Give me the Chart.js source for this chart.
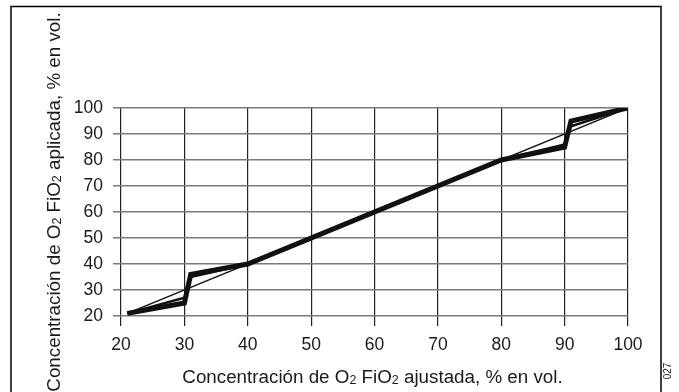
<!DOCTYPE html>
<html>
<head>
   <meta charset="utf-8">
   <script src="https://cdn.jsdelivr.net/npm/chart.js@4.4.0/dist/chart.umd.min.js"></script>
   <title>FiO2 ajustada vs aplicada</title>
   <style>
      body { margin: 0; background: #fff; }
   </style>
</head>
<body>
<canvas id="fio2-chart" width="679" height="392"></canvas>
<script>
   // set concentration (x) and measured concentration (y), % vol
   const setFiO2 = [21, 30, 31, 40, 80, 90, 91, 100];
   const appliedHigh = [21, 25, 36, 40, 80, 85, 95, 100];
   const appliedLow = [21, 27, 35, 40, 80, 86, 93, 100];
   const idealX = [21, 100];
   const idealY = [21, 100];
   const tickValues = [20, 30, 40, 50, 60, 70, 80, 90, 100];

   const xTitle = ['Concentración de O', '2', ' FiO', '2', ' ajustada, % en vol.'];
   const yTitle = ['Concentración de O', '2', ' FiO', '2', ' aplicada, % en vol.'];
   const figId = '027';

   function toPoints(xs, ys) {
      return xs.map(function (x, i) { return { x: x, y: ys[i] }; });
   }

   const FONT = '"Liberation Sans", Arial, sans-serif';

   // draws text where every odd piece is a small subscript digit
   function drawSubText(ctx, parts, x, y) {
      let widths = parts.map(function (p, i) {
         ctx.font = (i % 2 ? '12.5px ' : '18.8px ') + FONT;
         return ctx.measureText(p).width;
      });
      let total = widths.reduce(function (a, b) { return a + b; }, 0);
      let cx = x - total / 2;
      parts.forEach(function (p, i) {
         ctx.font = (i % 2 ? '12.5px ' : '18.8px ') + FONT;
         ctx.fillText(p, cx, y + (i % 2 ? 1 : 0));
         cx += widths[i];
      });
   }

   const decorations = {
      id: 'decorations',
      afterDraw: function (chart) {
         const ctx = chart.ctx;
         const area = chart.chartArea;
         ctx.save();
         // open frame round the figure
         ctx.strokeStyle = '#000';
         ctx.lineWidth = 1.5;
         ctx.beginPath();
         ctx.moveTo(11, 392);
         ctx.lineTo(11, 6.5);
         ctx.lineTo(661, 6.5);
         ctx.lineTo(661, 392);
         ctx.stroke();

         ctx.fillStyle = '#1a1a1a';
         ctx.textBaseline = 'alphabetic';
         ctx.textAlign = 'left';
         drawSubText(ctx, xTitle, (area.left + area.right) / 2 - 2, 383);

         ctx.save();
         ctx.translate(60, 202);
         ctx.rotate(-Math.PI / 2);
         drawSubText(ctx, yTitle, 0, 0);
         ctx.restore();

         ctx.save();
         ctx.translate(671, 371);
         ctx.rotate(-Math.PI / 2);
         ctx.font = '10px ' + FONT;
         ctx.textAlign = 'center';
         ctx.fillText(figId, 0, 0);
         ctx.restore();
         ctx.restore();
      }
   };

   new Chart(document.getElementById('fio2-chart'), {
      type: 'scatter',
      data: {
         datasets: [
            {
               data: toPoints(setFiO2, appliedHigh),
               borderColor: '#111',
               borderWidth: 5,
               showLine: true,
               pointRadius: 0
            },
            {
               data: toPoints(setFiO2, appliedLow),
               borderColor: '#111',
               borderWidth: 2.5,
               showLine: true,
               pointRadius: 0
            },
            {
               data: toPoints(idealX, idealY),
               borderColor: '#111',
               borderWidth: 1.5,
               showLine: true,
               pointRadius: 0
            }
         ]
      },
      options: {
         responsive: false,
         animation: false,
         devicePixelRatio: 1,
         layout: { padding: { top: 108, right: 51, bottom: 0, left: 0 } },
         plugins: {
            legend: { display: false },
            tooltip: { enabled: false }
         },
         scales: {
            x: {
               type: 'linear',
               min: 20,
               max: 100,
               afterBuildTicks: function (scale) {
                  scale.ticks = tickValues.map(function (v) { return { value: v }; });
               },
               afterFit: function (scale) { scale.height = 76; },
               border: { display: false },
               grid: { color: '#222', lineWidth: 1.2, tickLength: 10 },
               ticks: { color: '#1a1a1a', padding: 9, font: { family: FONT, size: 17.5 } }
            },
            y: {
               min: 20,
               max: 100,
               afterBuildTicks: function (scale) {
                  scale.ticks = tickValues.map(function (v) { return { value: v }; });
               },
               afterFit: function (scale) { scale.width = 121; },
               border: { display: false },
               grid: { color: '#7a7a7a', lineWidth: 1.5, tickLength: 8 },
               ticks: { color: '#1a1a1a', padding: 10, font: { family: FONT, size: 17.5 } }
            }
         }
      },
      plugins: [decorations]
   });
</script>
</body>
</html>
